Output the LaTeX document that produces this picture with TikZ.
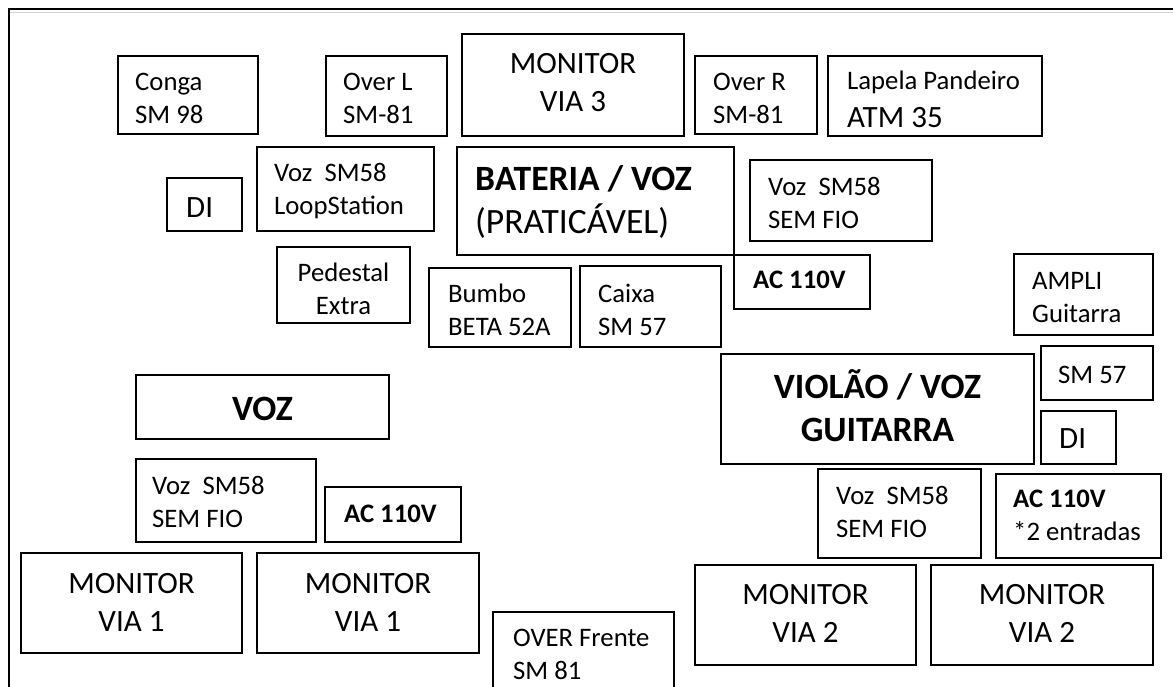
\documentclass[tikz,border=0pt]{standalone}
\usepackage{fontspec}
\setmainfont{Carlito}
\newcommand\fsm{\fontsize{26.7}{33}\selectfont}
\newcommand\fmd{\fontsize{31}{38}\selectfont}
\newcommand\fbg{\fontsize{35.6}{43}\selectfont}
\begin{document}
\begin{tikzpicture}[x=1pt,y=-1pt,
  box/.style={draw, line width=1.6pt, inner sep=0pt, outer sep=0pt, anchor=north west},
  lt/.style={anchor=base west, inner sep=0pt, align=left, font=\fsm},
  ct/.style={anchor=base, inner sep=0pt, align=center, font=\fmd}]
\useasboundingbox (0,0) rectangle (1173,686);
% frame
\coordinate (fb) at (9,690);
\coordinate (fc) at (9,9);
\coordinate (fr) at (1175,9);
\coordinate (gl) at (10,12.5);
\coordinate (gr) at (1175,12.5);
\draw[gray!35, line width=1.2pt] (gl) -- (gr);
\draw[line width=1.5pt] (fb) -- (fc) -- (fr);
% boxes
\node[box, minimum width=140, minimum height=78] (conga) at (118,56) {};
\node[box, minimum width=121, minimum height=80] (overL) at (326,56) {};
\node[box, minimum width=222, minimum height=102] (mon3) at (462,34) {};
\node[box, minimum width=122, minimum height=78] (overR) at (695,56) {};
\node[box, minimum width=214, minimum height=80] (lapela) at (828,56) {};
\node[box, minimum width=177, minimum height=84] (loop) at (257,147) {};
\node[box, minimum width=75, minimum height=53] (diL) at (167,178) {};
\node[box, minimum width=133, minimum height=76] (ped) at (277,247) {};
\node[box, minimum width=277, minimum height=108] (bat) at (457,147) {};
\node[box, minimum width=182, minimum height=81] (sfA) at (750,160) {};
\node[box, minimum width=136, minimum height=54] (acA) at (734,255) {};
\node[box, minimum width=142, minimum height=79] (bumbo) at (429,268) {};
\node[box, minimum width=141, minimum height=81] (caixa) at (580,266) {};
\node[box, minimum width=139, minimum height=81] (ampli) at (1014,254) {};
\node[box, minimum width=253, minimum height=64] (voz) at (136,375) {};
\node[box, minimum width=180, minimum height=83] (sfB) at (136,459) {};
\node[box, minimum width=136, minimum height=55] (acB) at (325,487) {};
\node[box, minimum width=221, minimum height=100] (monA) at (21,553) {};
\node[box, minimum width=222, minimum height=100] (monB) at (257,553) {};
\node[box, minimum width=313, minimum height=110] (viol) at (721,354) {};
\node[box, minimum width=112, minimum height=54] (sm57) at (1041,346) {};
\node[box, minimum width=75, minimum height=53] (diR) at (1041,411) {};
\node[box, minimum width=163, minimum height=89] (sfC) at (818,469) {};
\node[box, minimum width=165, minimum height=84] (acC) at (996,474) {};
\node[box, minimum width=221, minimum height=100] (monC) at (695,565) {};
\node[box, minimum width=222, minimum height=100] (monD) at (931,565) {};
\node[box, minimum width=181, minimum height=90] (overF) at (493,612) {};
% texts (multi-line nodes: base = baseline of last line)
\node[lt] (tconga) at (135,123) {Conga\\SM 98};
\node[lt] (toverL) at (343,123) {Over L\\SM-81};
\node[ct] (tmon3) at (573,111) {MONITOR\\VIA 3};
\node[lt] (toverR) at (713,123) {Over R\\SM-81};
\node[lt] (tlap) at (847,89) {Lapela Pandeiro};
\node[lt, font=\fmd] (tatm) at (847,127) {ATM 35};
\node[lt] (tloop) at (274,214) {Voz\ \ SM58\\LoopStation};
\node[lt, font=\fmd] (tdiL) at (186,217) {DI};
\node[ct, font=\fsm] (tped) at (343.5,314) {Pedestal\\Extra};
\node[lt, font=\fbg] (tbat) at (475,233) {\textbf{BATERIA / VOZ}\\(PRATICÁVEL)};
\node[lt] (tsfA) at (768,228) {Voz\ \ SM58\\SEM FIO};
\node[lt, font=\fsm\bfseries] (tacA) at (753,288) {AC 110V};
\node[lt] (tbumbo) at (448,335) {Bumbo\\BETA 52A};
\node[lt] (tcaixa) at (598,335) {Caixa\\SM 57};
\node[lt] (tampli) at (1032,322) {AMPLI\\Guitarra};
\node[ct, font=\fbg\bfseries] (tvoz) at (262.5,420) {VOZ};
\node[lt] (tsfB) at (152,527) {Voz\ \ SM58\\SEM FIO};
\node[lt, font=\fsm\bfseries] (tacB) at (344,522) {AC 110V};
\node[ct] (tmonA) at (131.5,631) {MONITOR\\VIA 1};
\node[ct] (tmonB) at (368,631) {MONITOR\\VIA 1};
\node[ct, font=\fbg\bfseries] (tviol) at (877.5,441) {VIOLÃO / VOZ\\GUITARRA};
\node[lt] (tsm57) at (1058,383) {SM 57};
\node[lt, font=\fmd] (tdiR) at (1059,448) {DI};
\node[lt] (tsfC) at (836,537) {Voz\ \ SM58\\SEM FIO};
\node[lt] (tacC) at (1013,540) {\textbf{AC 110V}\\*2 entradas};
\node[ct] (tmonC) at (805.5,642) {MONITOR\\VIA 2};
\node[ct] (tmonD) at (1042,642) {MONITOR\\VIA 2};
\node[lt] (toverF) at (513,679) {OVER Frente\\SM 81};
\end{tikzpicture}
\end{document}
